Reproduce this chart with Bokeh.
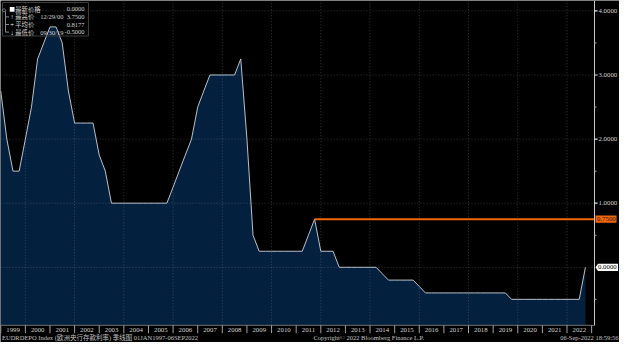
import pandas as pd
from bokeh.plotting import figure
from bokeh.models import Range1d
from bokeh.core.properties import value
from bokeh.embed import file_html
from bokeh.resources import INLINE

# ---------------- data ----------------
quarter_ends = ["1998-12-31"] + [f"{y}-{md}" for y in range(1999, 2023)
                                 for md in ["03-31", "06-30", "09-30", "12-31"]][:-1]
rates = [2.75,
         2.0, 1.5, 1.5, 2.0,
         2.5, 3.25, 3.5, 3.75,
         3.75, 3.5, 2.75, 2.25,
         2.25, 2.25, 2.25, 1.75,
         1.5, 1.0, 1.0, 1.0,
         1.0, 1.0, 1.0, 1.0,
         1.0, 1.0, 1.0, 1.25,
         1.5, 1.75, 2.0, 2.5,
         2.75, 3.0, 3.0, 3.0,
         3.0, 3.0, 3.25, 2.0,
         0.5, 0.25, 0.25, 0.25,
         0.25, 0.25, 0.25, 0.25,
         0.25, 0.5, 0.75, 0.25,
         0.25, 0.25, 0.0, 0.0,
         0.0, 0.0, 0.0, 0.0,
         0.0, -0.1, -0.2, -0.2,
         -0.2, -0.2, -0.2, -0.3,
         -0.4, -0.4, -0.4, -0.4,
         -0.4, -0.4, -0.4, -0.4,
         -0.4, -0.4, -0.4, -0.4,
         -0.4, -0.4, -0.5, -0.5,
         -0.5, -0.5, -0.5, -0.5,
         -0.5, -0.5, -0.5, -0.5,
         -0.5, -0.5, 0.0]
years = list(range(1999, 2023))
grid_years = list(range(2000, 2023, 2))
y_major = [1, 2, 3, 4]
y_minor = [-0.5, 0.5, 1.5, 2.5, 3.5]
y_grid = [0, 1, 2, 3, 4]
hline_start = "2011-09-30"
hline_level = 0.75
legend_names = ["最新价格", "最高价", "平均价", "最低价"]
legend_dates = ["", "12/29/00", "", "09/30/19"]
legend_icons = ["", "↑", "+", "↓"]
footer_left = "EUDRDEPO Index (欧洲央行存款利率)  季线图 01JAN1997-06SEP2022"
footer_mid = "Copyright© 2022 Bloomberg Finance L.P."
footer_right = "06-Sep-2022 18:59:56"


def to_year(s):
    t = pd.Timestamp(s)
    days = 366 if t.is_leap_year else 365
    return t.year + t.dayofyear / days


xs = [to_year(d) for d in quarter_ends]
last_v = rates[-1]
legend_values = [last_v, max(rates), sum(rates) / len(rates), min(rates)]

# ---------------- layout (pixels -> data) ----------------
W, H = 619, 342
X0 = 1998.99          # year at left edge
PXY = 24.62           # px per year
Y_TOP = 4.162         # value at top edge
PXU = 64.1            # px per unit of rate


def px(xp):
    return X0 + xp / PXY


def py(yp):
    return Y_TOP - yp / PXU


AXIS_X = px(594.0)        # right axis line
PLOT_BOTTOM = py(324.8)   # bottom of plotting area

BG = "black"
AREA = "#03203f"
LINE = "#b8c0c8"
ORANGE = "#f2660c"
TXT = "#d4d4d4"
NUMF = value("Liberation Serif")
CJKF = value("Liberation Serif, Noto Sans CJK SC")
FS = "6.8px"

p = figure(width=W, height=H, x_range=Range1d(X0, X0 + W / PXY),
           y_range=Range1d(Y_TOP - H / PXU, Y_TOP),
           x_axis_location=None, y_axis_location=None,
           output_backend="svg", toolbar_location=None,
           min_border_left=0, min_border_right=0, min_border_top=0, min_border_bottom=0,
           background_fill_color=BG, border_fill_color=BG, outline_line_color=None)
p.xgrid.visible = False
p.ygrid.visible = False

# series area + line
p.varea(x=xs, y1=PLOT_BOTTOM, y2=rates, fill_color=AREA)

# grid (dotted, faint, over the area)
p.segment(x0=grid_years, y0=PLOT_BOTTOM, x1=grid_years, y1=Y_TOP,
          line_color="#9a9a9a", line_alpha=0.35, line_dash="1 2", line_width=1)
p.segment(x0=X0, y0=y_grid, x1=AXIS_X, y1=y_grid,
          line_color="#9a9a9a", line_alpha=0.35, line_dash="1 2", line_width=1)

p.line(xs, rates, line_color=LINE, line_width=1)

# orange horizontal line from the 2011 peak
p.segment(x0=[to_year(hline_start)], y0=[hline_level], x1=[AXIS_X], y1=[hline_level],
          line_color=ORANGE, line_width=2)

# ---- bottom year band ----
p.segment(x0=X0, y0=PLOT_BOTTOM, x1=AXIS_X, y1=PLOT_BOTTOM, line_color="#707070", line_width=1)
p.segment(x0=years + [years[-1] + 1], y0=PLOT_BOTTOM, x1=years + [years[-1] + 1], y1=py(332.7),
          line_color="#a0a0a0", line_width=1)
p.text(x=[y + 0.5 for y in years], y=py(329.6), text=[str(y) for y in years],
       text_font=NUMF, text_font_size=FS, text_color=TXT,
       text_align="center", text_baseline="middle")

# ---- right axis ----
p.segment(x0=[AXIS_X], y0=[PLOT_BOTTOM], x1=[AXIS_X], y1=[Y_TOP], line_color="#c8c8c8", line_width=1)
p.segment(x0=AXIS_X, y0=y_major, x1=px(597.0), y1=y_major, line_color="#e8e8e8", line_width=1.2)
p.segment(x0=AXIS_X, y0=y_minor, x1=px(596.0), y1=y_minor, line_color="#a0a0a0", line_width=1)
p.text(x=px(598.0), y=y_major, text=[f"{v:.4f}" for v in y_major],
       text_font=NUMF, text_font_size=FS, text_color=TXT, text_baseline="middle")

# orange value tag
half = 3.6 / PXU
p.quad(left=[px(595.0)], right=[px(616.0)], bottom=[hline_level - half], top=[hline_level + half],
       fill_color=ORANGE, line_color=None)
p.text(x=[px(596.5)], y=[hline_level], text=[f"{hline_level:.4f}"],
       text_font=NUMF, text_font_size=FS, text_color="#1a1a1a", text_baseline="middle")

# white last-value tag (pointed left)
tag_x = [px(595.0), px(597.5), px(617.5), px(617.5), px(597.5)]
tag_y = [last_v, last_v + half, last_v + half, last_v - half, last_v - half]
p.patch(tag_x, tag_y, fill_color="white", line_color=None)
p.text(x=[px(597.5)], y=[last_v], text=[f"{last_v:.4f}"],
       text_font=NUMF, text_font_size=FS, text_color="black", text_baseline="middle")

# ---- legend box ----
p.quad(left=[px(2)], right=[px(88)], top=[py(2)], bottom=[py(35.5)],
       fill_color=None, line_color="#3c3c3c", line_width=1)
row_y = [8.8, 16.4, 24.0, 31.6]
# tree
p.segment(x0=[px(5)], y0=[py(row_y[0] + 2)], x1=[px(5)], y1=[py(row_y[3])],
          line_color="#8a8a8a", line_width=1)
p.segment(x0=px(5), y0=[py(r) for r in row_y[1:]], x1=px(8.5), y1=[py(r) for r in row_y[1:]],
          line_color="#8a8a8a", line_width=1)
p.scatter(x=[px(3.5)], y=[py(row_y[0] + 1)], size=3, marker="circle",
          fill_color=None, line_color="#8a8a8a", line_width=0.8)
# white square for the last price
p.quad(left=[px(9.3)], right=[px(14.0)], top=[py(row_y[0] - 2.4)], bottom=[py(row_y[0] + 2.4)],
       fill_color="white", line_color=None)
p.text(x=px(11.6), y=[py(r) for r in row_y], text=legend_icons,
       text_font=CJKF, text_font_size="6.5px", text_color="white",
       text_align="center", text_baseline="middle")
p.text(x=px(14.8), y=[py(r) for r in row_y], text=legend_names,
       text_font=value("Noto Sans CJK SC"), text_font_size="6.3px", text_color=TXT,
       text_baseline="middle")
p.text(x=px(39.8), y=[py(r) for r in row_y], text=legend_dates,
       text_font=NUMF, text_font_size="6.5px", text_color=TXT, text_baseline="middle")
p.text(x=px(84.0), y=[py(r) for r in row_y], text=[f"{v:.4f}" for v in legend_values],
       text_font=NUMF, text_font_size="6.5px", text_color=TXT,
       text_align="right", text_baseline="middle")

# ---- footer ----
p.text(x=[px(1.5), px(313.0)], y=py(337.4), text=[footer_left, footer_mid],
       text_font=CJKF, text_font_size="6.5px", text_color="#c0c0c0", text_baseline="middle")
p.text(x=[px(618.0)], y=[py(337.4)], text=[footer_right],
       text_font=NUMF, text_font_size="6.5px", text_color="#c0c0c0",
       text_align="right", text_baseline="middle")

open("out.html", "w").write(file_html(p, INLINE))
